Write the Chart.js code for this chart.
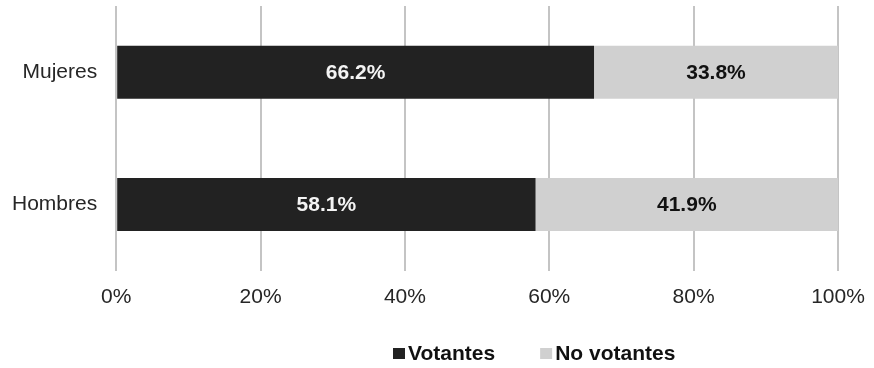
<!DOCTYPE html>
<html>
<head>
<meta charset="utf-8">
<script src="https://cdn.jsdelivr.net/npm/chart.js@4"></script>
<style>
  html, body { margin: 0; padding: 0; background: #fff; }
  #wrap { width: 874px; height: 368px; }
</style>
</head>
<body>
<div id="wrap"><canvas id="chart"></canvas></div>
<script>
const categories = ['Mujeres', 'Hombres'];
const votantes = [66.2, 58.1];
const noVotantes = [33.8, 41.9];
const seriesNames = ['Votantes', 'No votantes'];
const xTicks = [0, 20, 40, 60, 80, 100];

const FONT = '"Liberation Sans", Arial, sans-serif';
const DARK = '#222222';
const LIGHT = '#d0d0d0';

// value labels inside each bar segment
const barLabels = {
  id: 'barLabels',
  afterDatasetsDraw(chart) {
    const ctx = chart.ctx;
    ctx.save();
    ctx.font = 'bold 21px ' + FONT;
    ctx.textAlign = 'center';
    ctx.textBaseline = 'middle';
    chart.data.datasets.forEach((ds, i) => {
      const meta = chart.getDatasetMeta(i);
      meta.data.forEach((bar, j) => {
        const x = (bar.x + bar.base) / 2;
        ctx.fillStyle = i === 0 ? '#f4f4f4' : '#111111';
        ctx.fillText(ds.data[j].toFixed(1) + '%', x, bar.y + 1);
      });
    });
    ctx.restore();
  }
};

// legend drawn below the axis, shifted to the right like the original
const customLegend = {
  id: 'customLegend',
  afterDraw(chart) {
    const ctx = chart.ctx;
    ctx.save();
    ctx.font = 'bold 21px ' + FONT;
    ctx.textBaseline = 'middle';
    let x = 393;
    const y = 354;
    chart.data.datasets.forEach((ds) => {
      ctx.fillStyle = ds.backgroundColor;
      ctx.fillRect(x, y - 6, 12, 11);
      ctx.fillStyle = '#111111';
      ctx.fillText(ds.label, x + 15, y);
      x += 15 + ctx.measureText(ds.label).width + 45;
    });
    ctx.restore();
  }
};

// drop the extra padding chart.js adds around the scales
function noScalePadding(scale) {
  scale.paddingTop = 0;
  scale.paddingBottom = 0;
  scale.paddingLeft = 0;
  scale.paddingRight = 0;
}

new Chart(document.getElementById('chart'), {
  type: 'bar',
  data: {
    labels: categories,
    datasets: [
      { label: seriesNames[0], data: votantes, backgroundColor: DARK },
      { label: seriesNames[1], data: noVotantes, backgroundColor: LIGHT }
    ]
  },
  options: {
    indexAxis: 'y',
    responsive: true,
    maintainAspectRatio: false,
    animation: false,
    layout: { padding: { top: 6, left: 12, right: 36, bottom: 44 } },
    datasets: {
      bar: { barPercentage: 0.4, categoryPercentage: 1.0 }
    },
    scales: {
      x: {
        stacked: true,
        min: 0,
        max: 100,
        afterBuildTicks(scale) {
          scale.ticks = xTicks.map(v => ({ value: v }));
        },
        afterFit: noScalePadding,
        grid: { color: '#c4c4c4', lineWidth: 2, drawTicks: false },
        border: { display: false },
        ticks: {
          padding: 14,
          color: '#262626',
          font: { family: FONT, size: 21 },
          callback: v => v + '%'
        }
      },
      y: {
        stacked: true,
        afterFit(scale) {
          noScalePadding(scale);
          scale.width -= scale.options.ticks.padding;
        },
        grid: { display: false, drawTicks: false },
        border: { display: false },
        ticks: {
          padding: 19,
          color: '#262626',
          font: { family: FONT, size: 21 }
        }
      }
    },
    plugins: {
      legend: { display: false },
      tooltip: { enabled: false }
    }
  },
  plugins: [barLabels, customLegend]
});
</script>
</body>
</html>
